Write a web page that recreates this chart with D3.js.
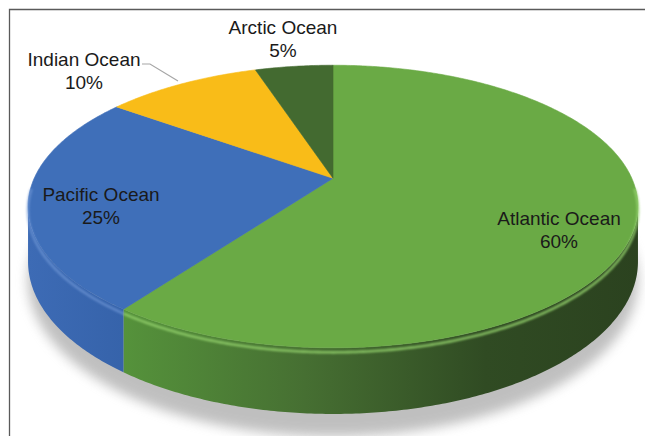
<!DOCTYPE html>
<html>
<head>
<meta charset="utf-8">
<script src="https://cdn.jsdelivr.net/npm/d3@7"></script>
<style>
  html, body { margin:0; padding:0; background:#fff; }
  svg { display:block; }
  .lbl { font-family:"Liberation Sans", Arial, sans-serif; font-size:19px; fill:#1a1a1a; }
</style>
</head>
<body>
<div id="chart"></div>
<script>
// data
const oceans  = ["Atlantic Ocean", "Pacific Ocean", "Indian Ocean", "Arctic Ocean"];
const shares  = [60, 25, 10, 5];
const pctText = ["60%", "25%", "10%", "5%"];

const width = 645, height = 436;

// look of each slice (top face, wall gradient)
const topColor  = { "Atlantic Ocean":"#6aaa45", "Pacific Ocean":"#3f6fb9", "Indian Ocean":"#f9bc18", "Arctic Ocean":"#436a30" };
const rimColor  = { "Atlantic Ocean":"#93d06c", "Pacific Ocean":"#6f97d6" };

// label layout (centre x, baseline of first line)
const labelAt = {
  "Atlantic Ocean": [559, 225],
  "Pacific Ocean":  [101, 201],
  "Indian Ocean":   [84, 66],
  "Arctic Ocean":   [283, 34]
};

// perspective: camera looks level, disc sits below it
const L = 5, H = 2.27, F = 1494, T = 0.177, HZ = -500, CX = 333;
function proj(a, r, depth) {
  let X = Math.sin(a) * r, Z = -Math.cos(a) * r, d = L - Z;
  return [CX + F * X / d, HZ + F * (H + depth) / d];
}
function arcPts(a0, a1, depth) {
  let n = Math.max(2, Math.ceil(Math.abs(a1 - a0) / 0.01)), pts = [];
  for (let i = 0; i <= n; i++) pts.push(proj(a0 + (a1 - a0) * i / n, 1, depth));
  return pts;
}

let rows = oceans.map((o, i) => ({ name:o, value:shares[i], pct:pctText[i] }));
let pie = d3.pie().value(d => d.value).sort(null).startAngle(0).endAngle(2 * Math.PI);
let arcs = pie(rows);

let line = d3.line();
let svg = d3.select("#chart").append("svg").attr("width", width).attr("height", height);
let defs = svg.append("defs");

defs.append("filter").attr("id","shadow").attr("x","-20%").attr("y","-20%").attr("width","140%").attr("height","140%")
  .append("feGaussianBlur").attr("stdDeviation", 6);
defs.append("filter").attr("id","soft")
  .append("feGaussianBlur").attr("stdDeviation", 1.2);

let gGreen = defs.append("linearGradient").attr("id","wallGreen").attr("gradientUnits","userSpaceOnUse")
  .attr("x1",125).attr("x2",640).attr("y1",0).attr("y2",0);
[[0,"#55923b"],[0.35,"#466f32"],[0.7,"#304b23"],[1,"#2b421f"]].forEach(s =>
  gGreen.append("stop").attr("offset",s[0]).attr("stop-color",s[1]));
let gBlue = defs.append("linearGradient").attr("id","wallBlue").attr("gradientUnits","userSpaceOnUse")
  .attr("x1",28).attr("x2",135).attr("y1",0).attr("y2",0);
[[0,"#3d6bb5"],[1,"#3562a9"]].forEach(s =>
  gBlue.append("stop").attr("offset",s[0]).attr("stop-color",s[1]));
const wallFill = { "Atlantic Ocean":"url(#wallGreen)", "Pacific Ocean":"url(#wallBlue)" };

// frame
svg.append("path").attr("d", `M9.5,${height} V9.5 H${width}`)
  .attr("fill","none").attr("stroke","#5a5a5a").attr("stroke-width",1.3);

// drop shadow under the disc
svg.append("path")
  .attr("d", line(arcPts(0, 2 * Math.PI, T + 0.06)) + "Z")
  .attr("fill","#8c8c8c").attr("opacity",0.55).attr("filter","url(#shadow)");

// visible outer wall: Z > 1/L
const vis0 = Math.acos(-1 / L), vis1 = 2 * Math.PI - Math.acos(-1 / L);
let walls = svg.append("g");
arcs.forEach(a => {
  let a0 = Math.max(a.startAngle, vis0), a1 = Math.min(a.endAngle, vis1);
  if (a1 <= a0) return;
  let pts = arcPts(a0, a1, 0).concat(arcPts(a1, a0, T));
  walls.append("path").attr("d", line(pts) + "Z")
    .attr("fill", wallFill[a.data.name] || topColor[a.data.name]);
});

// top faces
let tops = svg.append("g");
arcs.forEach(a => {
  let pts = [proj(0, 0, 0)].concat(arcPts(a.startAngle, a.endAngle, 0));
  tops.append("path").attr("d", line(pts) + "Z")
    .attr("fill", topColor[a.data.name])
    .attr("stroke", topColor[a.data.name]).attr("stroke-width", 0.6);
});

// bevel highlight along the front rim
arcs.forEach(a => {
  let a0 = Math.max(a.startAngle, vis0 - 0.15), a1 = Math.min(a.endAngle, vis1 + 0.15);
  if (a1 <= a0 || !rimColor[a.data.name]) return;
  svg.append("path").attr("d", line(arcPts(a0, a1, 0.012)))
    .attr("fill","none").attr("stroke", rimColor[a.data.name]).attr("stroke-width", 2.6)
    .attr("filter","url(#soft)").attr("opacity", a.data.name == "Atlantic Ocean" ? 0.85 : 0.7);
});

// leader line for Indian Ocean
svg.append("path").attr("d", line([[142, 64], [150, 64], [178, 81]]))
  .attr("fill","none").attr("stroke","#a6a6a6").attr("stroke-width",1.2);

// labels
let labels = svg.append("g");
arcs.forEach(a => {
  let p = labelAt[a.data.name];
  let t = labels.append("text").attr("class","lbl").attr("text-anchor","middle");
  t.append("tspan").attr("x", p[0]).attr("y", p[1]).text(a.data.name);
  t.append("tspan").attr("x", p[0]).attr("y", p[1] + 22.5).text(a.data.pct);
});
</script>
</body>
</html>
